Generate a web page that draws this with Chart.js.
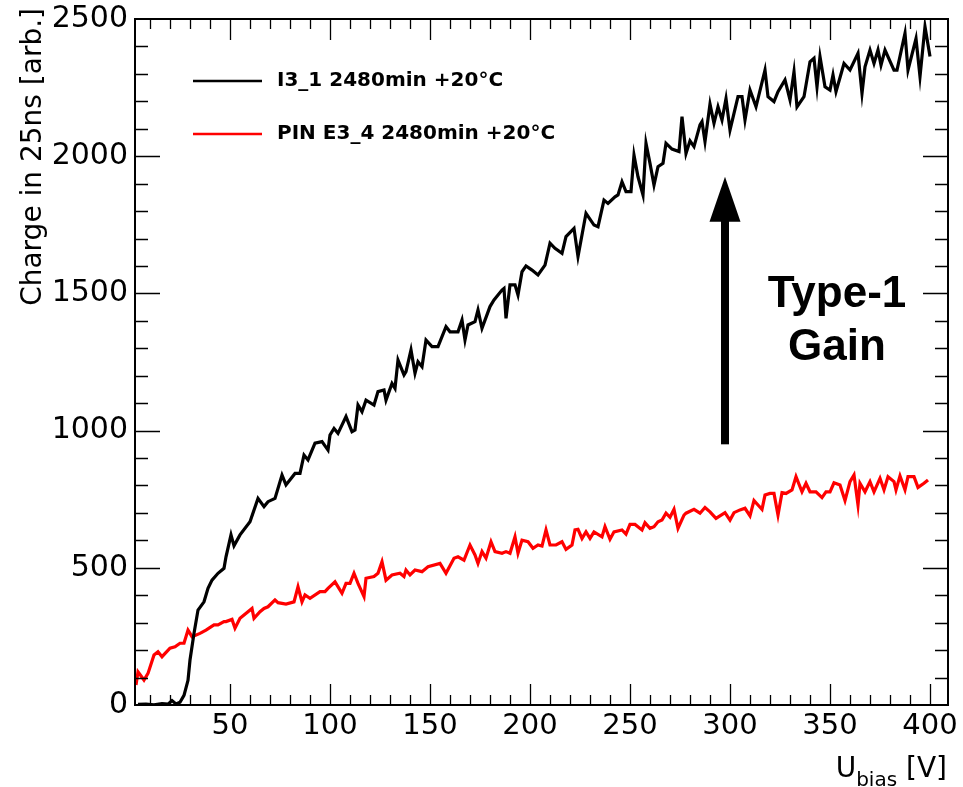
<!DOCTYPE html>
<html>
<head>
<meta charset="utf-8">
<script src="https://cdn.jsdelivr.net/npm/chart.js@4.4.0/dist/chart.umd.min.js"></script>
<style>
  body { margin: 0; background: #fff; }
  canvas { display: block; }
</style>
</head>
<body>
<canvas id="gainChart" width="963" height="787"></canvas>
<script>
// I3_1 (black) readings, bias voltage [V] and charge [arb.]
const blackVolts = [4, 8, 12, 16, 19, 21, 23, 25, 27, 29, 30, 32, 34, 37, 39, 41, 44, 47, 48, 50.5, 52, 55, 60, 64, 67, 69, 72.5, 76, 78, 82.5, 85, 87, 89, 92.5, 96, 99, 100, 102, 104, 108, 111, 112.5, 114, 116, 118, 122, 124, 127, 128, 131, 132.5, 134, 137, 138, 140.5, 142.5, 144, 146, 148, 151, 154, 158, 160, 164, 166, 167.5, 169, 172.5, 174, 176, 180, 182, 186, 187, 188, 190, 192.5, 194, 196, 198, 201, 204, 207.5, 210, 212.5, 216, 218, 222, 224, 228, 232, 234, 237, 239, 242.5, 244, 246, 248, 250.5, 252, 254, 256.5, 258, 260, 262, 264, 266.5, 268, 271, 274.5, 276, 278, 280, 282, 285, 286, 287.5, 290, 292, 294, 296, 298, 300, 304, 306, 307.5, 310, 313, 317.5, 319, 322, 324, 327.5, 330, 332, 333.5, 337, 340, 342, 343.5, 345, 347.5, 350, 351.5, 353, 357, 360, 364, 366, 367.5, 370, 372, 374, 375.5, 377.5, 382, 383.5, 387.5, 389, 393, 395, 397.5, 400];
const blackCharge = [2, 3, 1, 5, 3, 16, 4, 10, 35, 90, 164, 261, 346, 376, 425, 455, 480, 498, 540, 620, 580, 620, 668, 753, 723, 741, 753, 838, 802, 844, 844, 911, 893, 954, 960, 929, 984, 1008, 990, 1051, 996, 1002, 1093, 1069, 1111, 1093, 1142, 1148, 1111, 1172, 1154, 1257, 1203, 1215, 1294, 1209, 1251, 1233, 1330, 1306, 1306, 1379, 1360, 1360, 1403, 1330, 1385, 1397, 1440, 1373, 1452, 1476, 1512, 1518, 1409, 1531, 1531, 1494, 1579, 1600, 1585, 1567, 1603, 1683, 1664, 1646, 1707, 1737, 1634, 1792, 1749, 1743, 1840, 1828, 1852, 1859, 1907, 1871, 1871, 2004, 1925, 1859, 2047, 1974, 1895, 1962, 1974, 2047, 2026, 2017, 2144, 2010, 2056, 2035, 2114, 2126, 2053, 2190, 2120, 2180, 2132, 2210, 2095, 2217, 2217, 2132, 2241, 2180, 2314, 2217, 2199, 2235, 2278, 2205, 2308, 2180, 2217, 2344, 2357, 2253, 2363, 2253, 2241, 2296, 2235, 2338, 2314, 2375, 2229, 2326, 2387, 2338, 2387, 2332, 2387, 2314, 2314, 2448, 2314, 2429, 2290, 2472, 2363];

// PIN E3_4 (red) readings
const redVolts = [3, 4, 7, 9, 12, 14, 16, 20, 22.5, 25, 27, 29, 31, 35, 38, 42, 44, 47, 48, 51, 52.5, 55, 61, 62, 65, 67, 69, 72.5, 74, 78, 82, 84, 86, 87.5, 90, 95, 97.5, 99, 102.5, 106, 108, 110, 112, 114, 117, 118, 122, 124, 126, 128, 131, 135, 137, 138, 140, 142.5, 146, 149, 155, 158, 162, 164, 167, 170, 172.5, 174, 176, 178, 180.5, 182.5, 186, 188, 190, 192.5, 194, 196, 199, 201.5, 204, 206, 208, 210, 213, 216, 218, 221, 222.5, 224, 226, 228, 230, 232, 236, 237.5, 240, 242, 246, 248, 250, 252.5, 256, 257.5, 260, 262, 264, 266, 268, 270, 272, 274, 277, 278, 282, 285, 287.5, 290, 293, 297.5, 300, 302, 305, 307.5, 310, 312, 314, 316, 317.5, 320, 322, 324, 326, 328, 331, 333, 336, 338, 340, 343, 346, 348, 350, 352, 355, 357.5, 360, 362, 364, 365, 367.5, 370, 372, 375, 377, 379, 382, 383, 385, 387.5, 389, 392, 394, 397, 399];
const redCharge = [73, 121, 91, 115, 182, 194, 176, 207, 212, 225, 225, 273, 249, 261, 273, 292, 292, 304, 304, 312, 280, 316, 352, 316, 340, 352, 358, 383, 373, 368, 376, 431, 376, 401, 389, 413, 413, 425, 449, 407, 443, 443, 480, 443, 395, 462, 468, 480, 522, 455, 474, 480, 468, 492, 474, 492, 486, 504, 516, 480, 535, 540, 528, 583, 547, 516, 559, 535, 595, 559, 553, 559, 553, 613, 553, 601, 595, 571, 583, 579, 638, 583, 583, 595, 567, 583, 638, 640, 607, 631, 607, 631, 613, 650, 604, 631, 638, 623, 658, 658, 638, 664, 644, 650, 668, 674, 699, 684, 713, 644, 692, 699, 713, 699, 720, 704, 680, 701, 674, 701, 711, 717, 689, 745, 729, 713, 765, 771, 771, 692, 774, 771, 784, 832, 777, 808, 777, 777, 756, 777, 777, 810, 802, 745, 814, 838, 729, 808, 777, 814, 777, 826, 784, 832, 814, 784, 835, 784, 832, 832, 793, 808, 820];

const seriesLabels = ['I3_1 2480min +20\u00b0C', 'PIN E3_4 2480min +20\u00b0C'];
const xTickValues = [50, 100, 150, 200, 250, 300, 350, 400];
const yTickValues = [0, 500, 1000, 1500, 2000, 2500];

// arrow annotation in data units
const arrowVolt = 297.5;
const arrowFrom = 950;
const arrowTo = 1925;

function toPoints(xs, ys) {
  return xs.map((v, i) => ({ x: v, y: ys[i] }));
}

// ROOT style frame: box with inward ticks on all four sides
const rootFrame = {
  id: 'rootFrame',
  afterDatasetsDraw(chart) {
    const { ctx, chartArea: a, scales: { x, y } } = chart;
    ctx.save();
    ctx.strokeStyle = '#000';
    ctx.lineWidth = 1.3;
    ctx.beginPath();
    for (let v = 10; v <= 400; v += 10) {
      const px = Math.round(x.getPixelForValue(v)) + 0.5;
      const len = v % 50 === 0 ? 21 : 10;
      ctx.moveTo(px, a.bottom); ctx.lineTo(px, a.bottom - len);
      ctx.moveTo(px, a.top); ctx.lineTo(px, a.top + len);
    }
    for (let v = 100; v < 2500; v += 100) {
      const py = Math.round(y.getPixelForValue(v)) + 0.5;
      const len = v % 500 === 0 ? 25 : 13;
      ctx.moveTo(a.left, py); ctx.lineTo(a.left + len, py);
      ctx.moveTo(a.right, py); ctx.lineTo(a.right - len, py);
    }
    ctx.stroke();

    ctx.lineWidth = 2;
    ctx.strokeRect(a.left, a.top, a.right - a.left, a.bottom - a.top);

    // legend
    ctx.textBaseline = 'middle';
    ctx.textAlign = 'left';
    ctx.font = 'bold 20px "DejaVu Sans"';
    chart.data.datasets.forEach((ds, i) => {
      const ly = 81 + i * 53;
      ctx.strokeStyle = ds.borderColor;
      ctx.lineWidth = 2.5;
      ctx.beginPath();
      ctx.moveTo(193, ly); ctx.lineTo(262, ly);
      ctx.stroke();
      ctx.fillStyle = '#000';
      ctx.fillText(ds.label, 277, ly);
    });

    // axis titles
    ctx.fillStyle = '#000';
    ctx.textBaseline = 'alphabetic';
    ctx.font = '28px "DejaVu Sans"';
    const wU = ctx.measureText('U').width;
    const wV = ctx.measureText(' [V]').width;
    ctx.font = '20px "DejaVu Sans"';
    const wB = ctx.measureText('bias').width;
    let tx = 947 - (wU + wB + wV);
    ctx.font = '28px "DejaVu Sans"';
    ctx.fillText('U', tx, 777);
    tx += wU;
    ctx.font = '20px "DejaVu Sans"';
    ctx.fillText('bias', tx, 786);
    tx += wB;
    ctx.font = '28px "DejaVu Sans"';
    ctx.fillText(' [V]', tx, 777);

    ctx.save();
    ctx.translate(41, 8);
    ctx.rotate(-Math.PI / 2);
    ctx.textAlign = 'right';
    ctx.fillText('Charge in 25ns [arb.]', 0, 0);
    ctx.restore();

    // arrow and label
    const ax = x.getPixelForValue(arrowVolt);
    const y0 = y.getPixelForValue(arrowFrom);
    const y1 = y.getPixelForValue(arrowTo);
    ctx.fillStyle = '#000';
    ctx.fillRect(ax - 4, y1 + 40, 8, y0 - y1 - 40);
    ctx.beginPath();
    ctx.moveTo(ax, y1);
    ctx.lineTo(ax - 15.5, y1 + 45);
    ctx.lineTo(ax + 15.5, y1 + 45);
    ctx.closePath();
    ctx.fill();

    ctx.font = 'bold 44px "Liberation Sans"';
    ctx.textAlign = 'center';
    ctx.fillText('Type-1', 837, 307);
    ctx.fillText('Gain', 837, 360);
    ctx.restore();
  }
};

const ctx = document.getElementById('gainChart').getContext('2d');
const chart = new Chart(ctx, {
  type: 'line',
  data: {
    datasets: [{
      label: seriesLabels[0],
      data: toPoints(blackVolts, blackCharge),
      borderColor: '#000000',
      borderWidth: 3.2,
      pointRadius: 0,
      tension: 0
    }, {
      label: seriesLabels[1],
      data: toPoints(redVolts, redCharge),
      borderColor: '#ff0000',
      borderWidth: 3.2,
      pointRadius: 0,
      tension: 0
    }]
  },
  options: {
    responsive: false,
    animation: false,
    layout: { padding: { top: 19, right: 15, left: 0, bottom: 0 } },
    plugins: {
      legend: { display: false },
      tooltip: { enabled: false }
    },
    scales: {
      x: {
        type: 'linear',
        min: 2.5,
        max: 409,
        afterFit: s => { s.height = 82; s.paddingLeft = 0; s.paddingRight = 0; },
        afterBuildTicks: s => { s.ticks = xTickValues.map(v => ({ value: v })); },
        grid: { display: false, drawTicks: false },
        border: { display: false },
        ticks: {
          color: '#000',
          font: { family: 'DejaVu Sans', size: 29 },
          padding: 4,
          maxRotation: 0,
          autoSkip: false,
          callback: v => String(v)
        }
      },
      y: {
        type: 'linear',
        min: 0,
        max: 2500,
        afterFit: s => { s.width = 135; s.paddingTop = 0; s.paddingBottom = 0; },
        afterBuildTicks: s => { s.ticks = yTickValues.map(v => ({ value: v })); },
        grid: { display: false, drawTicks: false },
        border: { display: false },
        ticks: {
          color: '#000',
          font: { family: 'DejaVu Sans', size: 30 },
          padding: 7,
          autoSkip: false,
          callback: v => String(v)
        }
      }
    }
  },
  plugins: [rootFrame]
});
</script>
</body>
</html>
